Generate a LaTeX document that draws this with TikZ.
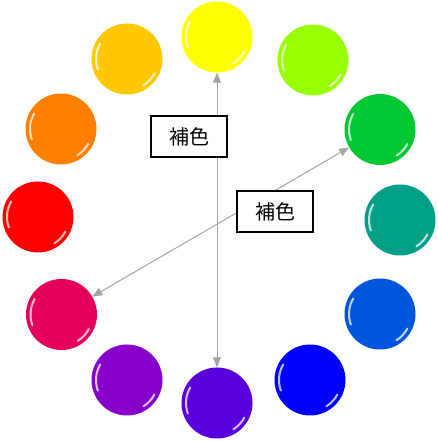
\documentclass[tikz,border=0pt]{standalone}
\usepackage{fontspec}
\usepackage{tikz}
\usetikzlibrary{arrows.meta,positioning,calc}
\newfontfamily\jpfont{Noto Sans CJK JP}
\definecolor{cYellow}{RGB}{255,255,0}
\definecolor{cYellowGreen}{RGB}{153,255,0}
\definecolor{cGreen}{RGB}{0,200,50}
\definecolor{cTeal}{RGB}{0,160,136}
\definecolor{cSky}{RGB}{0,85,221}
\definecolor{cBlue}{RGB}{0,0,255}
\definecolor{cViolet}{RGB}{90,0,221}
\definecolor{cPurple}{RGB}{136,0,204}
\definecolor{cMagenta}{RGB}{228,0,90}
\definecolor{cRed}{RGB}{255,0,0}
\definecolor{cOrange}{RGB}{255,128,0}
\definecolor{cAmber}{RGB}{255,200,0}
\definecolor{arrowgray}{RGB}{165,165,165}

\begin{document}
\begin{tikzpicture}[x=1pt, y=1pt,
    ball/.style={circle, draw=none, minimum size=71pt, inner sep=0pt},
    shine/.style={white, line width=2pt, opacity=0.75, line cap=round},
    pair/.style={draw=arrowgray, line width=1pt,
        {Triangle[length=10pt,width=8pt]}-{Triangle[length=10pt,width=8pt]}},
    tag/.style={draw=black, line width=2pt, fill=white, minimum width=76pt,
        minimum height=41pt, inner sep=0pt, font=\jpfont\fontsize{20}{24}\selectfont},
]
    \useasboundingbox (0,0) rectangle (438,441);
    % colour wheel
    \foreach \name/\x/\y/\col in {
        yellow/217/404/cYellow, ygreen/313/381/cYellowGreen,
        green/380/311.5/cGreen, teal/400/221/cTeal,
        sky/380/127/cSky, blue/310/61/cBlue,
        violet/217/38/cViolet, purple/127/61/cPurple,
        magenta/61.5/126.5/cMagenta, red/38/224/cRed,
        orange/61/312/cOrange, amber/127/382/cAmber} {
        \node[ball, fill=\col] (\name) at (\x,\y) {};
        \draw[shine] (\name.center) ++(150:31pt) arc[start angle=150, end angle=200, radius=31pt];
        \draw[shine] (\name.center) ++(-28:31pt) arc[start angle=-28, end angle=-58, radius=31pt];
    }
    % complementary pairs
    \draw[pair] (yellow) -- (violet);
    \draw[pair] (green) -- (magenta);
    \node[tag] (tagA) at (189,304.5) {補色};
    \node[tag] (tagB) at (275,229.5) {補色};
\end{tikzpicture}
\end{document}
